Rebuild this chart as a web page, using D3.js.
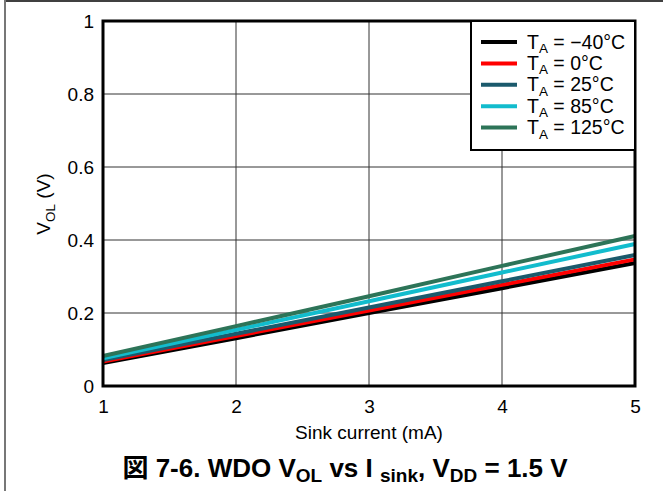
<!DOCTYPE html>
<html><head><meta charset="utf-8">
<script src="https://cdn.jsdelivr.net/npm/d3@7"></script>
<style>body{margin:0;background:#fff}svg{display:block}text{font-family:"Liberation Sans",Arial,sans-serif}</style>
</head><body><svg id="c" width="663" height="491"></svg>
<script>
const currents = [1, 2, 3, 4, 5];
const seriesNames = ["−40°C", "0°C", "25°C", "85°C", "125°C"];
const seriesColors = ["#000000", "#ff0000", "#1b5a6c", "#12bccd", "#2d7458"];
const vM40 = [0.063, 0.131, 0.200, 0.268, 0.337];
const v0 = [0.067, 0.137, 0.207, 0.277, 0.347];
const v25 = [0.071, 0.143, 0.215, 0.287, 0.359];
const v85 = [0.076, 0.154, 0.232, 0.311, 0.389];
const v125 = [0.082, 0.164, 0.246, 0.329, 0.411];
const xTicks = [1, 2, 3, 4, 5];
const yTicks = [0, 0.2, 0.4, 0.6, 0.8, 1];
const series = [vM40, v0, v25, v85, v125];

const svg = d3.select("#c");
const L = 103, R = 635, T = 21, B = 386;
const x = d3.scaleLinear().domain([1, 5]).range([L, R]);
const y = d3.scaleLinear().domain([0, 1]).range([B, T]);

// outer frame
svg.append("line").attr("x1", 5).attr("x2", 663).attr("y1", 1).attr("y2", 1).attr("stroke", "#000").attr("stroke-width", 1.5);
svg.append("line").attr("x1", 5).attr("x2", 5).attr("y1", 0).attr("y2", 491).attr("stroke", "#777").attr("stroke-width", 2);

// grid
svg.append("g").selectAll("line").data(xTicks.slice(1, -1)).join("line")
  .attr("x1", d => x(d)).attr("x2", d => x(d)).attr("y1", T).attr("y2", B)
  .attr("stroke", "#333").attr("stroke-width", 1);
svg.append("g").selectAll("line").data(yTicks.slice(1, -1)).join("line")
  .attr("x1", L).attr("x2", R).attr("y1", d => y(d)).attr("y2", d => y(d))
  .attr("stroke", "#333").attr("stroke-width", 1);

// axes (tick labels)
const xa = svg.append("g").attr("transform", `translate(0,${B})`)
  .call(d3.axisBottom(x).tickValues(xTicks).tickSize(0).tickPadding(14).tickFormat(d3.format("d")));
const ya = svg.append("g").attr("transform", `translate(${L},0)`)
  .call(d3.axisLeft(y).tickValues(yTicks).tickSize(0).tickPadding(9).tickFormat(d => d === 0 || d === 1 ? d3.format("d")(d) : d3.format(".1f")(d)));
[xa, ya].forEach(a => { a.select(".domain").remove(); a.selectAll("text").attr("font-size", 19).attr("fill", "#000").attr("font-family", "Liberation Sans, Arial, sans-serif"); });

// lines
const line = d3.line().x((d, i) => x(currents[i])).y(d => y(d));
svg.append("g").selectAll("path").data(series).join("path")
  .attr("d", line).attr("fill", "none")
  .attr("stroke", (d, i) => seriesColors[i]).attr("stroke-width", 4);

// plot frame
svg.append("rect").attr("x", L).attr("y", T).attr("width", R - L).attr("height", B - T)
  .attr("fill", "none").attr("stroke", "#000").attr("stroke-width", 3);

// legend
const lg = svg.append("g");
lg.append("rect").attr("x", 471).attr("y", 21).attr("width", 164).attr("height", 129)
  .attr("fill", "#fff").attr("stroke", "#000").attr("stroke-width", 2);
const rowY = i => 42 + i * 21.4;
seriesNames.forEach((n, i) => {
  lg.append("line").attr("x1", 481).attr("x2", 517).attr("y1", rowY(i)).attr("y2", rowY(i))
    .attr("stroke", seriesColors[i]).attr("stroke-width", 4);
  const t = lg.append("text").attr("x", 527).attr("y", rowY(i) + 6.5).attr("font-size", 19.5).attr("fill", "#000");
  t.append("tspan").text("T");
  t.append("tspan").attr("font-size", 13.5).attr("dy", 4.5).text("A");
  t.append("tspan").attr("dy", -4.5).text(" = " + n);
});

// axis titles
svg.append("text").attr("x", 369).attr("y", 439).attr("text-anchor", "middle").attr("font-size", 19).text("Sink current (mA)");
const yl = svg.append("text").attr("transform", "translate(50,204) rotate(-90)").attr("text-anchor", "middle").attr("font-size", 19);
yl.append("tspan").text("V");
yl.append("tspan").attr("font-size", 13.5).attr("dy", 4.5).text("OL");
yl.append("tspan").attr("dy", -4.5).text(" (V)");

// caption
const cap = svg.append("text").attr("x", 345).attr("y", 477).attr("text-anchor", "middle")
  .attr("font-size", 26).attr("font-weight", "bold");
cap.append("tspan").attr("font-family", "Noto Sans CJK JP").text("図");
cap.append("tspan").text(" 7-6. WDO V");
cap.append("tspan").attr("font-size", 19).attr("dy", 5).text("OL");
cap.append("tspan").attr("dy", -5).text(" vs I ");
cap.append("tspan").attr("font-size", 19).attr("dy", 5).text("sink");
cap.append("tspan").attr("dy", -5).text(", V");
cap.append("tspan").attr("font-size", 19).attr("dy", 5).text("DD");
cap.append("tspan").attr("dy", -5).text(" = 1.5 V");
</script></body></html>
